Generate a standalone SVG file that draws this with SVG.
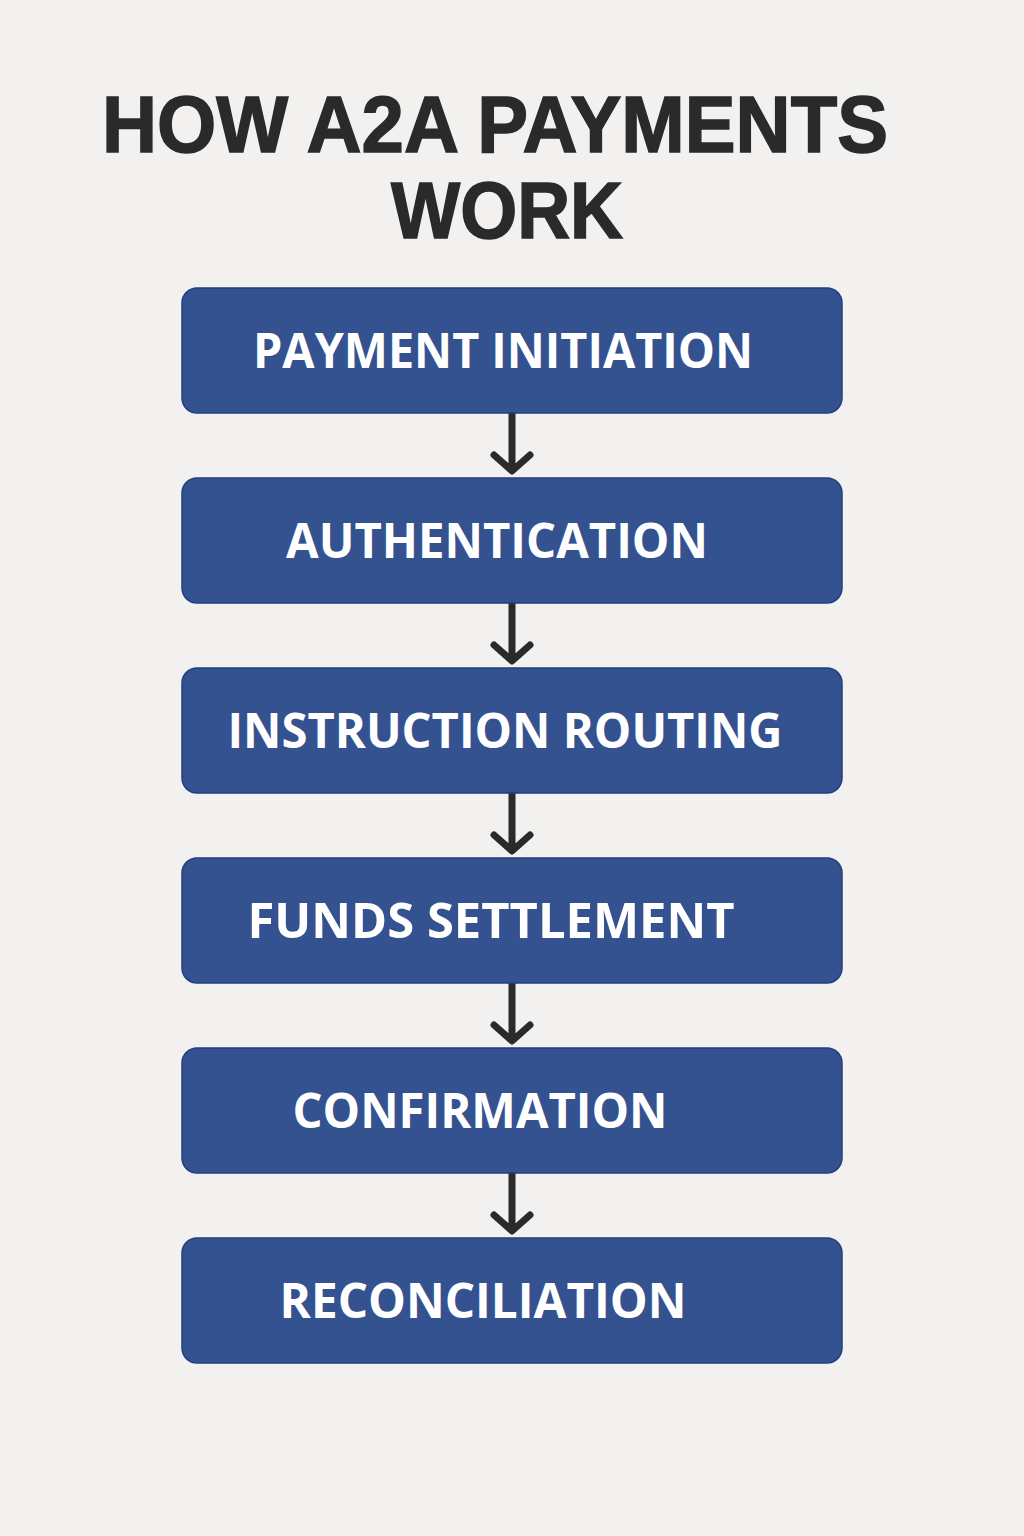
<svg xmlns="http://www.w3.org/2000/svg" width="1024" height="1536" viewBox="0 0 1024 1536">
<style>
.bg{fill:#f2f1ef}
.title{font-family:"Liberation Sans",Arial,sans-serif;font-weight:700;font-size:80px;fill:#2a2a2a;stroke:#2a2a2a;stroke-width:1.5}
.box{fill:#33528f;stroke:#213f80;stroke-width:1.5}
.lbl{font-family:"Open Sans","DejaVu Sans",sans-serif;font-weight:700;font-size:48px;fill:#ffffff;text-anchor:middle}
.arr{fill:none;stroke:#2a2a2a;stroke-width:7;stroke-linecap:round;stroke-linejoin:round}
</style>
<rect class="bg" x="0" y="0" width="1024" height="1536"/>
<g id="title">
<text class="title" x="102" y="152" textLength="786" lengthAdjust="spacingAndGlyphs">HOW A2A PAYMENTS</text>
<text class="title" x="391" y="238" textLength="232" lengthAdjust="spacingAndGlyphs">WORK</text>
</g>
<g id="connectors">
<path class="arr" d="M512 413 V469 M494 455 L512 471 L530 455"/>
<path class="arr" d="M512 603 V659 M494 645 L512 661 L530 645"/>
<path class="arr" d="M512 793 V849 M494 835 L512 851 L530 835"/>
<path class="arr" d="M512 983 V1039 M494 1025 L512 1041 L530 1025"/>
<path class="arr" d="M512 1173 V1229 M494 1215 L512 1231 L530 1215"/>
</g>
<g id="node1"><rect class="box" x="182" y="288" width="660" height="125" rx="15"/><text class="lbl" x="503" y="368" textLength="500" lengthAdjust="spacingAndGlyphs">PAYMENT INITIATION</text></g>
<g id="node2"><rect class="box" x="182" y="478" width="660" height="125" rx="15"/><text class="lbl" x="497" y="558" textLength="422" lengthAdjust="spacingAndGlyphs">AUTHENTICATION</text></g>
<g id="node3"><rect class="box" x="182" y="668" width="660" height="125" rx="15"/><text class="lbl" x="505" y="748" textLength="555" lengthAdjust="spacingAndGlyphs">INSTRUCTION ROUTING</text></g>
<g id="node4"><rect class="box" x="182" y="858" width="660" height="125" rx="15"/><text class="lbl" x="491" y="938" textLength="487" lengthAdjust="spacingAndGlyphs">FUNDS SETTLEMENT</text></g>
<g id="node5"><rect class="box" x="182" y="1048" width="660" height="125" rx="15"/><text class="lbl" x="480" y="1128" textLength="375" lengthAdjust="spacingAndGlyphs">CONFIRMATION</text></g>
<g id="node6"><rect class="box" x="182" y="1238" width="660" height="125" rx="15"/><text class="lbl" x="483" y="1318" textLength="407" lengthAdjust="spacingAndGlyphs">RECONCILIATION</text></g>
</svg>
